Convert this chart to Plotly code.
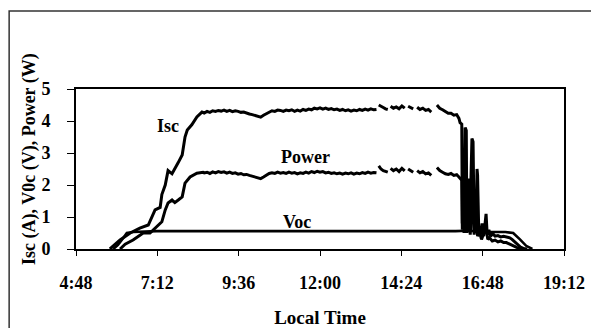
import plotly.graph_objects as go

# ---------------- data ----------------
isc_times = [
    "5:48", "6:06", "6:24", "6:41", "6:56", "7:03", "7:08", "7:17", "7:20", "7:26",
    "7:31", "7:38", "7:43", "7:49", "7:56", "8:01", "8:05", "8:13", "8:22", "8:31",
    "8:35", "8:40", "8:45", "8:50", "8:55", "9:00", "9:05", "9:10", "9:15", "9:20",
    "9:25", "9:30", "9:35", "9:40", "9:45", "9:50", "9:55", "10:00", "10:05", "10:10",
    "10:15", "10:20", "10:25", "10:30", "10:35", "10:40", "10:45", "10:50", "10:55", "11:00",
    "11:05", "11:10", "11:15", "11:20", "11:25", "11:30", "11:35", "11:40", "11:45", "11:50",
    "11:55", "12:00", "12:05", "12:10", "12:15", "12:20", "12:25", "12:30", "12:35", "12:40",
    "12:45", "12:50", "12:55", "13:00", "13:05", "13:10", "13:15", "13:20", "13:25", "13:30",
    "13:35", "13:40", "13:42", "13:44", "13:48", "13:52", "13:56", "14:00", "14:02", "14:05",
    "14:10", "14:15", "14:20", "14:25", "14:30", "14:33", "14:36", "14:40", "14:45", "14:48",
    "14:52", "14:57", "15:02", "15:07", "15:12", "15:17", "15:20", "15:27", "15:32", "15:37",
    "15:42", "15:47", "15:52", "15:57", "16:02", "16:06", "16:08", "16:11", "16:12", "16:14",
    "16:15", "16:17", "16:19", "16:20", "16:23", "16:25", "16:29", "16:31", "16:33", "16:35",
    "16:36", "16:38", "16:39", "16:41", "16:44", "16:47", "16:50", "16:54", "16:56", "16:59",
    "17:02", "17:06", "17:10", "17:15", "17:20", "17:25", "17:30", "17:36", "17:40", "17:45",
    "17:50", "17:55", "18:00", "18:07",
]
isc_values = [
    0.0, 0.28, 0.5, 0.65, 0.75, 1.06, 1.22, 1.3, 1.7, 2.0,
    2.45, 2.35, 2.5, 2.7, 2.94, 3.5, 3.72, 3.88, 4.13, 4.28,
    4.25, 4.3, 4.27, 4.32, 4.3, 4.33, 4.31, 4.34, 4.3, 4.33,
    4.29, 4.32, 4.3, 4.27, 4.28, 4.24, 4.22, 4.2, 4.17, 4.14,
    4.12, 4.18, 4.22, 4.28, 4.32, 4.3, 4.34, 4.33, 4.3, 4.34,
    4.32, 4.35, 4.3, 4.34, 4.31, 4.36, 4.33, 4.37, 4.35, 4.4,
    4.38, 4.41, 4.37, 4.4, 4.36, 4.39, 4.35, 4.37, 4.33, 4.36,
    4.32, 4.35, 4.31, 4.34, 4.32, 4.36, 4.33, 4.37, 4.34, 4.38,
    4.35, 4.36, None, 4.5, 4.45, 4.42, 4.38, 4.36, None, 4.46,
    4.4, 4.44, 4.38, 4.47, 4.4, None, 4.46, 4.42, 4.38, None,
    4.43, 4.36, 4.4, 4.33, 4.36, 4.28, None, 4.5, 4.4, 4.35,
    4.3, 4.24, 4.24, 4.18, 4.2, 4.08, 3.95, 3.9, 0.8, 2.8,
    0.7, 3.8, 3.7, 0.6, 2.2, 0.6, 3.45, 3.35, 0.55, 1.5,
    0.5, 2.5, 2.3, 0.6, 0.45, 0.8, 0.4, 1.1, 0.45, 0.6,
    0.4, 0.48, 0.4, 0.42, 0.38, 0.4, 0.37, 0.35, 0.3, 0.22,
    0.12, 0.06, 0.02, 0.0,
]

power_times = [
    "6:06", "6:15", "6:29", "6:47", "6:59", "7:08", "7:20", "7:26", "7:31", "7:38",
    "7:43", "7:49", "7:56", "8:01", "8:10", "8:22", "8:33",
    "8:35", "8:40", "8:45", "8:50", "8:55", "9:00", "9:05", "9:10", "9:15", "9:20",
    "9:25", "9:30", "9:35", "9:40", "9:45", "9:50", "9:55", "10:00", "10:05", "10:10",
    "10:15", "10:20", "10:25", "10:30", "10:35", "10:40", "10:45", "10:50", "10:55", "11:00",
    "11:05", "11:10", "11:15", "11:20", "11:25", "11:30", "11:35", "11:40", "11:45", "11:50",
    "11:55", "12:00", "12:05", "12:10", "12:15", "12:20", "12:25", "12:30", "12:35", "12:40",
    "12:45", "12:50", "12:55", "13:00", "13:05", "13:10", "13:15", "13:20", "13:25", "13:30",
    "13:35", "13:40", "13:42", "13:44", "13:48", "13:52", "13:56", "14:00", "14:02", "14:05",
    "14:10", "14:15", "14:20", "14:25", "14:30", "14:33", "14:36", "14:40", "14:45", "14:48",
    "14:52", "14:57", "15:02", "15:07", "15:12", "15:17", "15:20", "15:27", "15:32", "15:37",
    "15:42", "15:47", "15:52", "15:57", "16:02", "16:06", "16:09", "16:11", "16:12", "16:14",
    "16:15", "16:18", "16:20", "16:24", "16:26", "16:30", "16:33", "16:37", "16:39", "16:42",
    "16:46", "16:50", "16:54", "16:57", "17:00", "17:05", "17:10", "17:15", "17:20", "17:25",
    "17:30", "17:36", "17:42", "17:48", "17:55", "18:02",
]
power_values = [
    0.0, 0.15, 0.28, 0.5, 0.5, 0.65, 0.85, 1.22, 1.44, 1.53,
    1.45, 1.53, 1.63, 2.06, 2.25, 2.37, 2.4,
    2.38, 2.4, 2.36, 2.41, 2.38, 2.42, 2.39, 2.41, 2.37, 2.4,
    2.36, 2.38, 2.34, 2.36, 2.32, 2.33, 2.3, 2.28, 2.25, 2.22,
    2.2, 2.25, 2.3, 2.36, 2.38, 2.36, 2.4, 2.37, 2.39, 2.36,
    2.4, 2.37, 2.39, 2.35, 2.38, 2.36, 2.4, 2.37, 2.42, 2.39,
    2.43, 2.4, 2.42, 2.38, 2.4, 2.36, 2.38, 2.35, 2.37, 2.34,
    2.37, 2.35, 2.38, 2.34, 2.37, 2.35, 2.39, 2.36, 2.4, 2.37,
    2.39, 2.38, None, 2.6, 2.5, 2.45, 2.42, 2.4, None, 2.52,
    2.45, 2.5, 2.42, 2.52, 2.44, None, 2.5, 2.45, 2.4, None,
    2.45, 2.38, 2.42, 2.35, 2.38, 2.3, None, 2.55, 2.45, 2.4,
    2.35, 2.33, 2.36, 2.3, 2.32, 2.25, 2.2, 2.15, 0.6, 1.8,
    0.5, 2.1, 0.5, 1.4, 0.45, 1.9, 0.45, 1.3, 0.4, 0.55,
    0.3, 0.5, 0.7, 0.3, 0.35, 0.25, 0.28, 0.22, 0.25, 0.2,
    0.2, 0.15, 0.1, 0.05, 0.02, 0.0,
]

voc_times = [
    "5:54", "6:02", "6:09", "6:18", "6:29", "6:45", "7:11", "8:00", "9:00", "10:00",
    "11:00", "12:00", "12:30", "13:00", "13:20", "13:40", "14:00", "14:20", "14:40", "15:00",
    "15:20", "15:40", "16:00", "16:20", "16:40", "17:00", "17:28", "17:42", "17:54", "18:05",
    "18:16",
]
voc_values = [
    0.0, 0.12, 0.28, 0.5, 0.53, 0.55, 0.56, 0.56, 0.56, 0.56,
    0.56, 0.56, 0.56, 0.55, 0.56, 0.54, 0.56, 0.54, 0.56, 0.55,
    0.56, 0.55, 0.56, 0.57, 0.55, 0.53, 0.53, 0.5, 0.3, 0.1,
    0.0,
]

tick_values = [4.8, 7.2, 9.6, 12.0, 14.4, 16.8, 19.2]
tick_labels = ["4:48", "7:12", "9:36", "12:00", "14:24", "16:48", "19:12"]

series_labels = ["Isc", "Power", "Voc"]
label_times = ["7:31", "11:35", "11:19"]
label_values = [3.84, 2.87, 0.84]

y_title = "Isc (A), V0c (V), Power (W)"
x_title = "Local Time"


def to_hours(t):
    h, m = t.split(":")
    return int(h) + int(m) / 60.0


FONT = "Liberation Serif, Times New Roman, serif"

fig = go.Figure()
for name, times, vals, w in [
    ("Isc", isc_times, isc_values, 3),
    ("Power", power_times, power_values, 3),
    ("Voc", voc_times, voc_values, 2.6),
]:
    fig.add_trace(go.Scatter(
        x=[to_hours(t) for t in times], y=vals, mode="lines", name=name,
        line=dict(color="black", width=w), connectgaps=False,
    ))

for lab, t, v in zip(series_labels, label_times, label_values):
    fig.add_annotation(x=to_hours(t), y=v, text=lab, showarrow=False,
                       font=dict(family=FONT, size=18, color="black", weight="bold"))

# y axis title, placed as in the reference
fig.add_annotation(xref="paper", yref="paper", x=-0.0963, y=0.5625,
                   xanchor="center", yanchor="middle", textangle=-90,
                   text=y_title, showarrow=False,
                   font=dict(family=FONT, size=18, color="black", weight="bold"))

# outer frame of the figure (left, top and right edges)
fig.add_shape(type="rect", xref="paper", yref="paper",
              x0=-0.137, x1=1.06, y0=-0.6, y1=1.4875,
              line=dict(color="#333333", width=1.5), layer="below")

# the page body has an 8px margin, so the figure is offset accordingly
fig.update_layout(
    width=591, height=320,
    margin=dict(l=68, r=35, t=81, b=79),
    paper_bgcolor="white", plot_bgcolor="white",
    showlegend=False,
    font=dict(family=FONT, size=17, color="black", weight="bold"),
)
fig.update_xaxes(
    range=[4.8, 19.2], tickvals=tick_values, ticktext=tick_labels,
    showgrid=False, zeroline=False, automargin=False,
    showline=True, linecolor="black", linewidth=2, mirror=True,
    ticks="outside", ticklen=5, tickcolor="black", tickwidth=1,
    ticklabelstandoff=11,
    tickfont=dict(family=FONT, size=18, weight="bold"),
    title=dict(text=x_title, font=dict(family=FONT, size=19, weight="bold"), standoff=20),
)
fig.update_yaxes(
    range=[0, 5], dtick=1, tickformat="d",
    showgrid=False, zeroline=False, automargin=False,
    showline=True, linecolor="black", linewidth=2, mirror=True,
    ticks="outside", ticklen=7, tickcolor="black", tickwidth=1,
    ticklabelstandoff=13,
    tickfont=dict(family=FONT, size=18, weight="bold"),
)

fig.write_html("out.html")
